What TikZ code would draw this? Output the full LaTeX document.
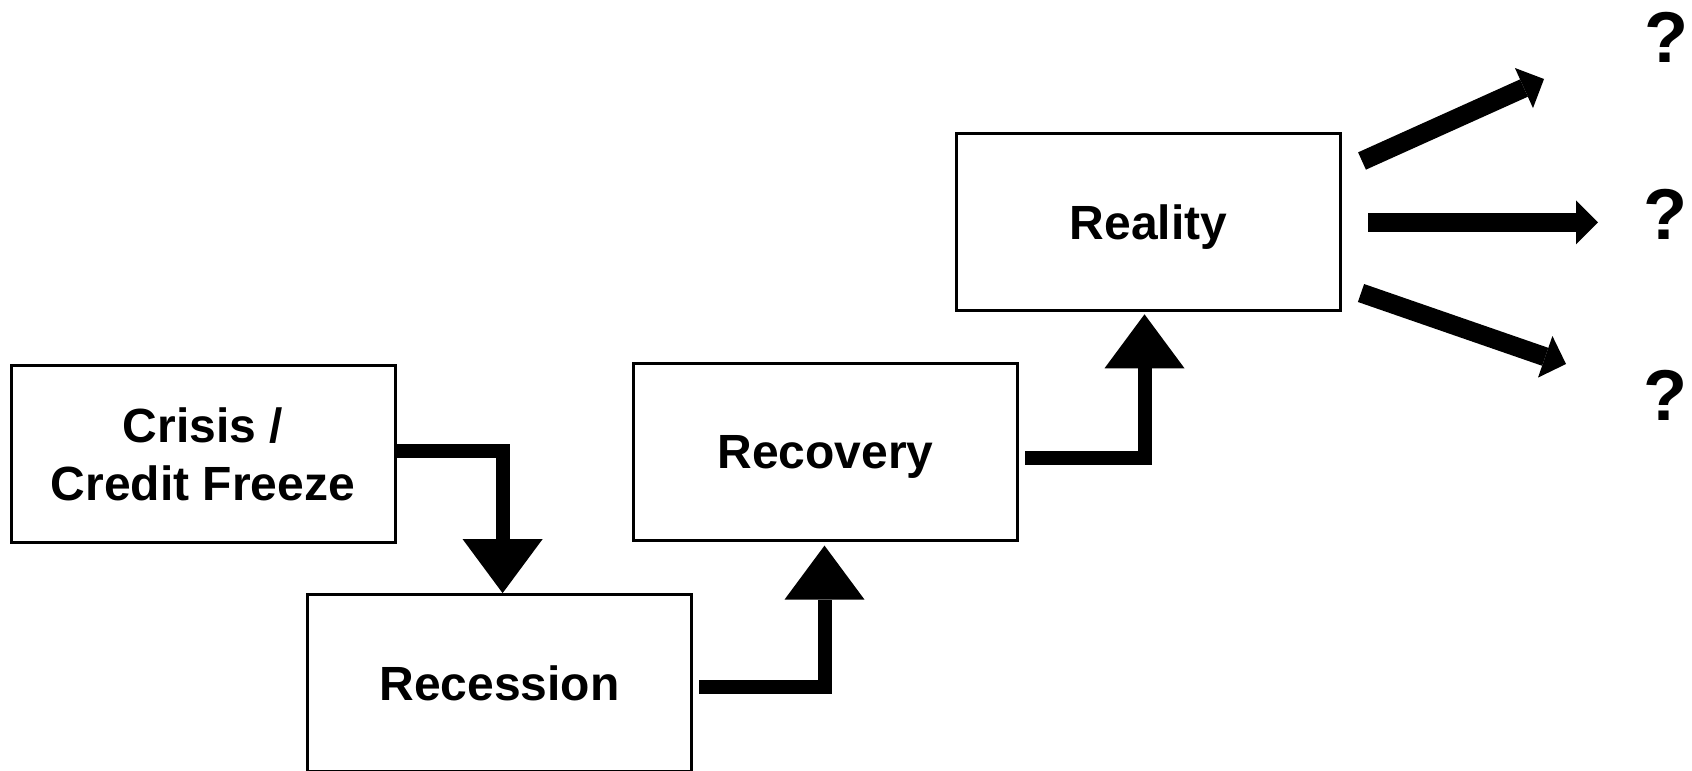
\documentclass[tikz,border=0pt]{standalone}
\usepackage{fontspec}
\setmainfont{Liberation Sans}
\usetikzlibrary{arrows.meta}
\begin{document}
\begin{tikzpicture}[x=0.5pt,y=-0.5pt,
  stagebox/.style={draw=black, line width=1.5pt, fill=white, minimum width=192pt,
    minimum height=88.5pt, inner sep=0pt, align=center,
    font=\fontsize{24}{29}\selectfont\bfseries, text depth=0pt},
  bigarrow/.style={line width=7pt, line join=miter,
    -{Triangle[length=27pt,width=40pt,line width=0pt]}},
  fanarrow/.style={line width=9.5pt,
    -{Triangle[length=11pt,width=22pt,line width=0pt]}},
  qmark/.style={inner sep=0pt, font=\fontsize{36}{43}\selectfont\bfseries}]
\clip (0,0) rectangle (1692,771);
\fill[white] (0,0) rectangle (1692,771);
\node[stagebox] (crisis) at (203,454.3) {Crisis /\\Credit Freeze};
\node[stagebox] (recession) at (499.6,683.1) {Recession};
\node[stagebox] (recovery) at (825.5,451.6) {Recovery};
\node[stagebox] (reality) at (1148.5,222.3) {Reality};
\node[qmark] (q1) at (1666,37.5) {?};
\node[qmark] (q2) at (1665,214) {?};
\node[qmark] (q3) at (1665,395) {?};
\draw[bigarrow] ([yshift=1.5pt]crisis.east) -| ([xshift=1.5pt]recession.north);
\draw[bigarrow] ([xshift=3pt,yshift=-2pt]recession.east) -| ([xshift=-0.5pt,yshift=-2pt]recovery.south);
\draw[bigarrow] ([xshift=3pt,yshift=-3pt]recovery.east) -| ([xshift=-2pt,yshift=-1pt]reality.south);
\coordinate (u0) at (1362,161);
\coordinate (u1) at (1544,79);
\coordinate (m0) at (1368,222.3);
\coordinate (m1) at (1598,222.3);
\coordinate (d0) at (1361,293);
\coordinate (d1) at (1566,364);
\draw[fanarrow] (u0) -- (u1);
\draw[fanarrow] (m0) -- (m1);
\draw[fanarrow] (d0) -- (d1);
\end{tikzpicture}
\end{document}
